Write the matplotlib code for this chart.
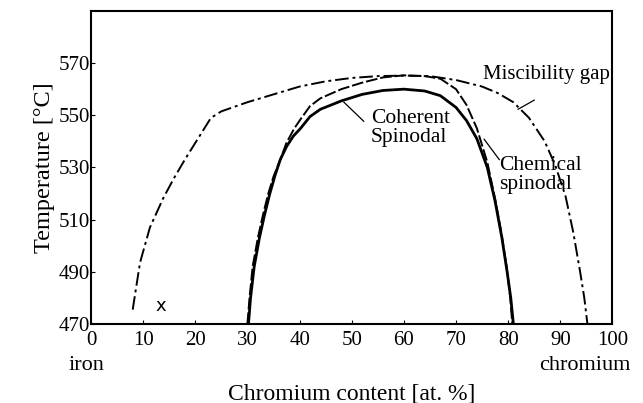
import matplotlib.pyplot as plt

plt.rcParams['font.family'] = ['Liberation Serif', 'DejaVu Serif']

# Miscibility gap (dash-dot)
misc_x = [8, 9.4, 11.3, 13.8, 15.8, 18, 20.5, 23, 25, 30, 35, 40, 45, 50, 55, 60,
          65, 70, 75, 78, 81, 84, 87, 89, 91, 92.5, 93.8, 94.6, 95.2]
misc_t = [475.5, 493.5, 507, 518, 525.5, 533, 541, 549, 551.5, 555, 558, 561,
          563, 564.3, 565, 565.2, 565, 563.5, 561, 558.5, 555, 549, 540, 531, 519,
          505, 490, 480, 470]

# Chemical spinodal (dashed)
chem_x = [30, 30.4, 31, 32, 33, 34, 35, 36.3, 37.5, 39, 40.2, 42, 44, 48, 52, 56,
          60, 64, 67, 70, 72, 74, 76, 77.5, 78.7, 79.7, 80.4, 80.8]
chem_t = [470, 480, 492, 503, 512, 520, 526.5, 533, 539.5, 545, 548.5, 553.5,
          556.5, 560, 562.5, 564.5, 565.3, 565, 564, 560, 554, 545, 532, 518, 505,
          492, 480, 470]

# Coherent spinodal (solid)
coh_x = [30.2, 30.6, 31.3, 32.3, 33.3, 34.3, 35.3, 36.3, 37.5, 38.8, 40.2, 42, 44,
         48, 52, 56, 60, 64, 67, 70, 72, 74, 76, 77.5, 78.8, 79.8, 80.5, 81]
coh_t = [470, 480, 492, 503, 512, 520, 527, 533, 538, 542, 545, 549.5, 552.3,
         555.5, 558, 559.5, 560, 559.3, 557.5, 553, 548, 541, 530, 517, 503, 490,
         480, 470]

fig = plt.figure(figsize=(6.43, 4.03), dpi=100)
ax = fig.add_axes([0.1415, 0.196, 0.811, 0.777])

ax.plot(misc_x, misc_t, color='black', lw=1.4, linestyle=(0, (7, 2, 1.5, 2)))
ax.plot(chem_x, chem_t, color='black', lw=1.4, linestyle=(0, (6, 1.5)))
ax.plot(coh_x, coh_t, color='black', lw=2.0)

# labels with leader lines
ax.text(75.2, 565.8, 'Miscibility gap', fontsize=15, va='center', ha='left')
ax.plot([85, 81.9], [555.8, 552.3], color='black', lw=0.9)
ax.text(53.7, 545.2, 'Coherent\nSpinodal', fontsize=15.5, va='center', ha='left',
        linespacing=1.0)
ax.plot([52.3, 48.5], [547.7, 555], color='black', lw=0.9)
ax.text(78.3, 527.2, 'Chemical\nspinodal', fontsize=15.5, va='center', ha='left',
        linespacing=1.0)
ax.plot([78.3, 75.4], [533, 540.8], color='black', lw=0.9)
ax.text(13.3, 477, 'x', fontsize=13, family='DejaVu Sans', ha='center', va='center')

ax.set_xlim(0, 100)
ax.set_ylim(470, 590)
ax.set_xticks(range(0, 101, 10))
ax.set_yticks(range(470, 571, 20))
ax.tick_params(direction='in', length=3, labelsize=15)
ax.tick_params(axis='x', pad=5)
ax.tick_params(axis='y', pad=1)
for s in ax.spines.values():
    s.set_linewidth(1.5)

ax.set_xlabel('Chromium content [at. %]', fontsize=17, labelpad=24)
ax.set_ylabel('Temperature [°C]', fontsize=17.5, labelpad=2)
ax.text(-0.8, 454, 'iron', fontsize=16, ha='center', va='center')
ax.text(103.5, 454, 'chromium', fontsize=16, ha='right', va='center')

fig.savefig('out.png', dpi=100)
